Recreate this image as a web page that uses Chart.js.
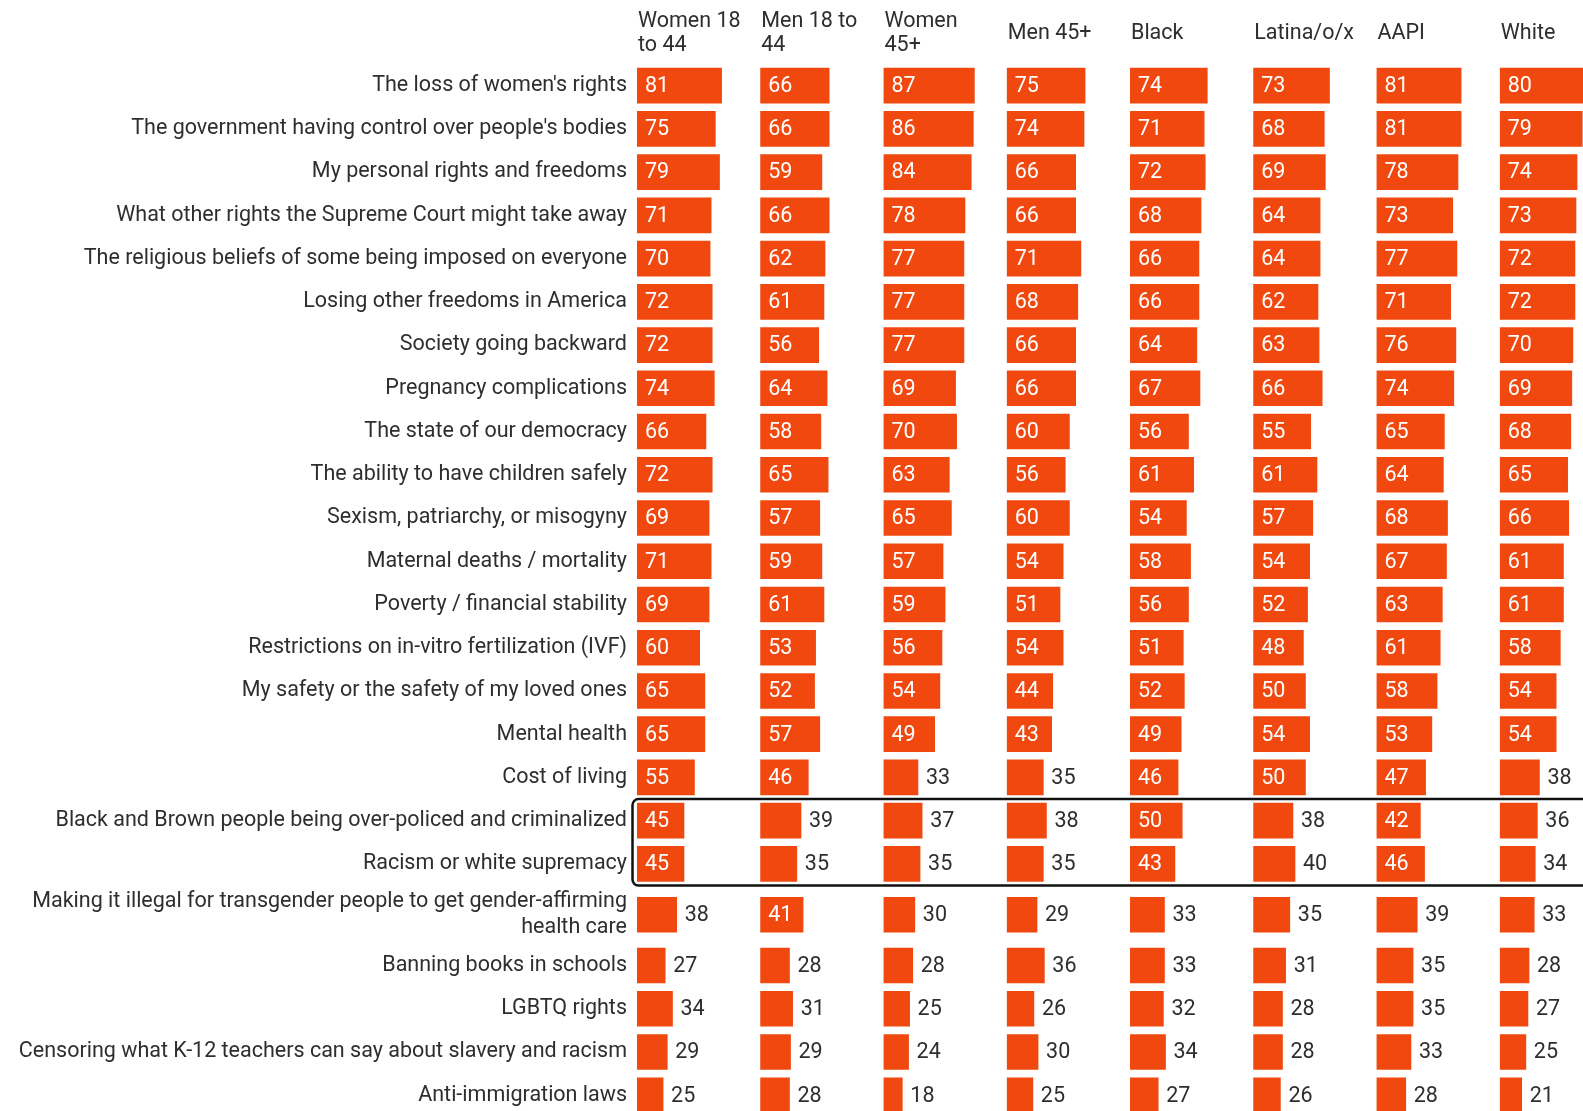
<!DOCTYPE html>
<html>
<head>
<meta charset="utf-8">
<script src="https://cdn.jsdelivr.net/npm/chart.js@4.4.1/dist/chart.umd.min.js"></script>
<style>
html,body{margin:0;padding:0;overflow:hidden;background:#ffffff}
canvas{display:block}
</style>
</head>
<body>
<canvas id="c" width="1640" height="1132"></canvas>
<script>
const categories = [
  "The loss of women's rights",
  "The government having control over people's bodies",
  "My personal rights and freedoms",
  "What other rights the Supreme Court might take away",
  "The religious beliefs of some being imposed on everyone",
  "Losing other freedoms in America",
  "Society going backward",
  "Pregnancy complications",
  "The state of our democracy",
  "The ability to have children safely",
  "Sexism, patriarchy, or misogyny",
  "Maternal deaths / mortality",
  "Poverty / financial stability",
  "Restrictions on in-vitro fertilization (IVF)",
  "My safety or the safety of my loved ones",
  "Mental health",
  "Cost of living",
  "Black and Brown people being over-policed and criminalized",
  "Racism or white supremacy",
  ["Making it illegal for transgender people to get gender-affirming", "health care"],
  "Banning books in schools",
  "LGBTQ rights",
  "Censoring what K-12 teachers can say about slavery and racism",
  "Anti-immigration laws"
];

const groupHeaders = [
  ["Women 18", "to 44"],
  ["Men 18 to", "44"],
  ["Women", "45+"],
  ["Men 45+"],
  ["Black"],
  ["Latina/o/x"],
  ["AAPI"],
  ["White"]
];

const women18to44 = [81,75,79,71,70,72,72,74,66,72,69,71,69,60,65,65,55,45,45,38,27,34,29,25];
const men18to44   = [66,66,59,66,62,61,56,64,58,65,57,59,61,53,52,57,46,39,35,41,28,31,29,28];
const women45plus = [87,86,84,78,77,77,77,69,70,63,65,57,59,56,54,49,33,37,35,30,28,25,24,18];
const men45plus   = [75,74,66,66,71,68,66,66,60,56,60,54,51,54,44,43,35,38,35,29,36,26,30,25];
const black       = [74,71,72,68,66,66,64,67,56,61,54,58,56,51,52,49,46,50,43,33,33,32,34,27];
const latina      = [73,68,69,64,64,62,63,66,55,61,57,54,52,48,50,54,50,38,40,35,31,28,28,26];
const aapi        = [81,81,78,73,77,71,76,74,65,64,68,67,63,61,58,53,47,42,46,39,35,35,33,28];
const white       = [80,79,74,73,72,72,70,69,68,65,66,61,61,58,54,54,38,36,34,33,28,27,25,21];

const series = [women18to44, men18to44, women45plus, men45plus, black, latina, aapi, white];
const highlightedRows = [17, 18];
const insideLabelMin = 41;

const BAR = '#f0480f';
const TEXT = '#2e2e2e';
const FONT = "Roboto, 'Liberation Sans', Arial, sans-serif";
const FS = 21.5;

// row positions derived from the number of label lines (two-line rows get more room)
const lineCount = c => Array.isArray(c) ? c.length : 1;
const rowSize = c => 1 + 0.35 * (lineCount(c) - 1);
const rowPos = [];
categories.forEach((c, i) => {
  rowPos.push(i === 0 ? 0 : rowPos[i - 1] + (rowSize(categories[i - 1]) + rowSize(c)) / 2);
});

const datasets = series.map((vals, i) => ({
  label: groupHeaders[i].join(' '),
  data: vals.map((v, j) => ({ x: v, y: rowPos[j] })),
  xAxisID: 'x' + i,
  yAxisID: 'y',
  backgroundColor: BAR,
  borderWidth: 0,
  barThickness: 35,
  grouped: false
}));

const xScales = {};
series.forEach((s, i) => {
  xScales['x' + i] = {
    type: 'linear',
    position: 'top',
    stack: 'cols',
    stackWeight: 1,
    weight: series.length - i,
    min: 0,
    max: 118,
    display: true,
    ticks: { display: false },
    grid: { display: false, drawTicks: false },
    border: { display: false },
    afterFit(scale) { scale.height = 64; scale.paddingLeft = 0; scale.paddingRight = 0; }
  };
});

const headerPlugin = {
  id: 'headers',
  afterDraw(chart) {
    const ctx = chart.ctx;
    ctx.save();
    ctx.font = FS + 'px ' + FONT;
    ctx.fillStyle = TEXT;
    ctx.textAlign = 'left';
    ctx.textBaseline = 'middle';
    const centerY = chart.chartArea.top / 2 + 1.5;
    const lh = 24;
    groupHeaders.forEach((lines, i) => {
      const sc = chart.scales['x' + i];
      const y0 = centerY - (lines.length - 1) * lh / 2;
      lines.forEach((t, k) => ctx.fillText(t, sc.left + 1, y0 + k * lh));
    });
    ctx.restore();
  }
};

const valueLabels = {
  id: 'valueLabels',
  afterDatasetsDraw(chart) {
    const ctx = chart.ctx;
    ctx.save();
    ctx.font = FS + 'px ' + FONT;
    ctx.textBaseline = 'middle';
    ctx.textAlign = 'left';
    chart.data.datasets.forEach((ds, di) => {
      const meta = chart.getDatasetMeta(di);
      meta.data.forEach((bar, j) => {
        const v = ds.data[j].x;
        if (v >= insideLabelMin) {
          ctx.fillStyle = '#ffffff';
          ctx.fillText(String(v), bar.base + 8, bar.y + 1);
        } else {
          ctx.fillStyle = TEXT;
          ctx.fillText(String(v), bar.x + 8, bar.y + 1);
        }
      });
    });
    ctx.restore();
  }
};

const highlightBox = {
  id: 'highlightBox',
  afterDraw(chart) {
    const y = chart.scales.y;
    const half = Math.abs(y.getPixelForValue(0.5) - y.getPixelForValue(0));
    const rows = highlightedRows.map(r => rowPos[r]);
    const top = y.getPixelForValue(Math.min(...rows)) - half;
    const bottom = y.getPixelForValue(Math.max(...rows)) + half;
    const left = chart.scales.x0.left - 4.5;
    const right = chart.chartArea.right + 20;
    const ctx = chart.ctx;
    ctx.save();
    ctx.strokeStyle = '#111111';
    ctx.lineWidth = 2.5;
    ctx.beginPath();
    ctx.roundRect(left, top, right - left, bottom - top, 6);
    ctx.stroke();
    ctx.restore();
  }
};

new Chart(document.getElementById('c'), {
  type: 'bar',
  data: { datasets },
  options: {
    indexAxis: 'y',
    responsive: false,
    animation: false,
    layout: { padding: { left: 0, top: 0, right: 17, bottom: 0 } },
    plugins: { legend: { display: false }, tooltip: { enabled: false } },
    scales: Object.assign({
      y: {
        type: 'linear',
        reverse: true,
        offset: false,
        min: -0.5,
        max: 24.2,
        afterFit(scale) { scale.width = 637; scale.paddingTop = 0; scale.paddingBottom = 0; },
        afterBuildTicks(scale) { scale.ticks = rowPos.map(v => ({ value: v })); },
        ticks: {
          autoSkip: false,
          padding: 10,
          color: TEXT,
          font: { family: FONT, size: FS, lineHeight: 1.22 },
          callback(v) {
            const i = rowPos.findIndex(p => Math.abs(p - v) < 1e-6);
            return i >= 0 ? categories[i] : '';
          }
        },
        grid: { display: false, drawTicks: false, offset: false },
        border: { display: false }
      }
    }, xScales)
  },
  plugins: [headerPlugin, valueLabels, highlightBox]
});
</script>
</body>
</html>
